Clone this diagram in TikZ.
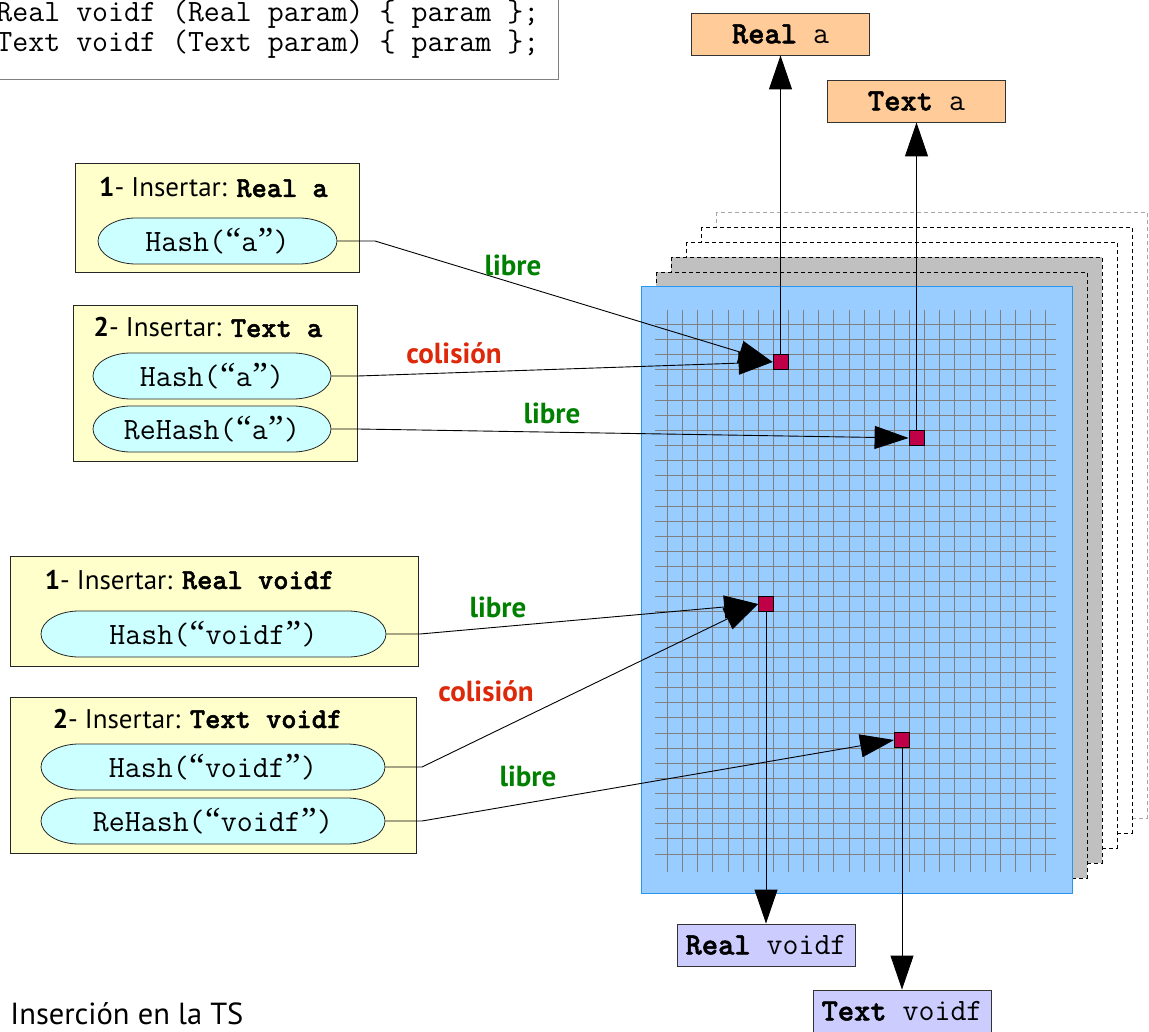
\documentclass[tikz,border=0pt]{standalone}
\usepackage{fontspec}
\newfontfamily\labelsans{PT Sans}
\newfontfamily\monoheavy{lmmonolt10-bold.otf}[FakeBold=1.6]
\newfontfamily\quotefont{Liberation Serif}
\usetikzlibrary{arrows.meta,calc}

\definecolor{notefill}{RGB}{255,255,204}
\definecolor{pillfill}{RGB}{204,255,255}
\definecolor{tablefill}{RGB}{153,204,255}
\definecolor{tableedge}{RGB}{40,150,235}
\definecolor{layergray}{RGB}{192,192,192}
\definecolor{peach}{RGB}{255,204,153}
\definecolor{lavender}{RGB}{204,204,255}
\definecolor{slotred}{RGB}{192,0,70}
\definecolor{okgreen}{RGB}{0,128,0}
\definecolor{clashred}{RGB}{221,40,10}
\definecolor{gridgray}{RGB}{128,128,128}

\newcommand\mono[1]{{\fontsize{31}{36}\selectfont\ttfamily #1}}
\newcommand\kw[1]{{\monoheavy #1}}
\newcommand\monot[1]{{\fontsize{29}{34}\selectfont\monoheavy #1}}
% typographic quotes set in a monospaced cell
\newcommand\oq{\makebox[0.525em]{\quotefont\fontsize{35}{36}\selectfont “}}
\newcommand\cq{\makebox[0.525em]{\quotefont\fontsize{35}{36}\selectfont ”}}

% pill-shaped outline (flattened ellipse) under a named text node
\newcommand\pill[5]{%
  \filldraw[pillline] ({#2-#4/2},#3) .. controls +(0,-12.7) and +(-21,0) .. ({#2-#4/2+38},{#3-23})
    -- ({#2+#4/2-38},{#3-23}) .. controls +(21,0) and +(0,-12.7) .. ({#2+#4/2},#3)
    .. controls +(0,12.7) and +(21,0) .. ({#2+#4/2-38},{#3+23})
    -- ({#2-#4/2+38},{#3+23}) .. controls +(-21,0) and +(0,12.7) .. ({#2-#4/2},#3) -- cycle;
  \node[pilltext, minimum width=#4pt] (#1) at (#2,#3) {\mono{#5}};}

\begin{document}
\begin{tikzpicture}[x=1pt, y=-1pt, line width=0.9pt,
  notebox/.style={draw=black!85, fill=notefill, inner sep=0},
  pillline/.style={draw=black!85, fill=pillfill, line width=0.8pt},
  pilltext/.style={inner sep=0, minimum height=46pt},
  title/.style={inner sep=0, anchor=base, font=\labelsans\fontsize{27}{31}\selectfont},
  outbox/.style={draw=black!80, inner sep=0, minimum width=178pt, minimum height=42pt},
  slot/.style={draw=black, fill=slotred, minimum size=15pt, inner sep=0, line width=0.8pt},
  conn/.style={draw=black, line width=0.9pt},
  tip/.style={-{Triangle[length=34pt,width=23pt]}},
  oklabel/.style={inner sep=0, text=okgreen, font=\labelsans\bfseries\fontsize{29}{34}\selectfont},
  clashlabel/.style={inner sep=0, text=clashred, font=\labelsans\bfseries\fontsize{29}{34}\selectfont},
  layerdash/.style={dash pattern=on 4pt off 3pt, line width=0.9pt},
  gridline/.style={draw=gridgray, line width=1.5pt}]

\useasboundingbox (0,0) rectangle (1149,1032);

% declarations being inserted
\node[draw=gray, line width=1pt, inner sep=0, minimum width=563pt, minimum height=84pt, anchor=north west] (code) at (-5,-5) {};
\node[anchor=base west, inner sep=0] (code1) at (-4,22) {\mono{Real voidf (Real param) \{ param \};}};
\node[anchor=base west, inner sep=0] (code2) at (-4,52) {\mono{Text voidf (Text param) \{ param \};}};

% stacked symbol-table pages, back to front
\draw[layerdash, draw=gray!70, fill=white] (716,212) rectangle (1147,818);
\draw[layerdash, draw=black, fill=white] (701,227) rectangle (1132,833);
\draw[layerdash, draw=black, fill=white] (686,242) rectangle (1117,848);
\draw[layerdash, draw=black, fill=layergray] (671,257) rectangle (1102,863);
\draw[layerdash, draw=black, fill=layergray] (656,272) rectangle (1087,878);
\draw[draw=tableedge, fill=tablefill, line width=1pt] (641,287) rectangle (1072,893);

% cell grid
\foreach \i in {0,...,25}
  \draw[gridline] ({round(667+15.13*\i)+0.5},310) -- ({round(667+15.13*\i)+0.5},872);
\foreach \j in {0,...,35}
  \draw[gridline] (655,{round(324+15.13*\j)+0.5}) -- (1056,{round(324+15.13*\j)+0.5});

% result entries
\node[outbox, fill=peach] (realA) at (780.5,34) {\mono{\kw{Real} a}};
\node[outbox, fill=peach] (textA) at (916.5,101) {\mono{\kw{Text} a}};
\node[outbox, fill=lavender] (realV) at (766,945) {\mono{\kw{Real} voidf}};
\node[outbox, fill=lavender] (textV) at (902,1011) {\mono{\kw{Text} voidf}};

% occupied cells
\node[slot] (sq1) at (780.5,362) {};
\node[slot] (sq2) at (916.5,438) {};
\node[slot] (sq3) at (766,604) {};
\node[slot] (sq4) at (902,740) {};

% insertion steps
\node[notebox, minimum width=284pt, minimum height=109pt] (b1) at (217,217.5) {};
\node[notebox, minimum width=284pt, minimum height=156pt] (b2) at (215,383) {};
\node[notebox, minimum width=408pt, minimum height=110pt] (b3) at (214,611) {};
\node[notebox, minimum width=406pt, minimum height=156pt] (b4) at (213,775) {};

\node[title] (t1) at (213.5,197) {{\bfseries 1}- Insertar: \monot{Real a}};
\node[title] (t2) at (208,337) {{\bfseries 2}- Insertar: \monot{Text a}};
\node[title] (t3) at (189.5,589) {{\bfseries 1}- Insertar: \monot{Real voidf}};
\node[title] (t4) at (197.5,728) {{\bfseries 2}- Insertar: \monot{Text voidf}};

\pill{p1}{217.5}{241}{239}{Hash(\oq a\cq)}
\pill{p2}{212}{376}{238}{Hash(\oq a\cq)}
\pill{p3}{212}{429}{238}{ReHash(\oq a\cq)}
\pill{p4}{213.5}{634}{345}{Hash(\oq voidf\cq)}
\pill{p5}{213}{767}{344}{Hash(\oq voidf\cq)}
\pill{p6}{213}{821}{344}{ReHash(\oq voidf\cq)}

% bends of the connectors
\coordinate (c1) at (375,241);
\coordinate (c2) at (358,376);
\coordinate (c3) at (358,429);
\coordinate (c4) at (420,634);
\coordinate (c5) at (422,767);
\coordinate (c6) at (422,821);

\draw[conn, tip] (p1.east) -- (c1) -- (sq1.west);
\draw[conn, tip] (p2.east) -- (c2) -- (sq1.west);
\draw[conn, tip] (p3.east) -- (c3) -- (sq2.west);
\draw[conn, tip] (p4.east) -- (c4) -- (sq3.west);
\draw[conn, tip] (p5.east) -- (c5) -- (sq3.west);
\draw[conn, tip] (p6.east) -- (c6) -- (sq4.west);

\draw[conn, tip] (sq1.north) -- (realA.south);
\draw[conn, tip] (sq2.north) -- (textA.south);
\draw[conn, tip] (sq3.south) -- (realV.north);
\draw[conn, tip] (sq4.south) -- (textV.north);

% outcome labels
\node[oklabel] (l1) at (513,265) {libre};
\node[clashlabel] (l2) at (454,353) {colisión};
\node[oklabel] (l3) at (552,413) {libre};
\node[oklabel] (l4) at (498,607) {libre};
\node[clashlabel] (l5) at (486,691) {colisión};
\node[oklabel] (l6) at (528,776) {libre};

\node[inner sep=0, anchor=base west, font=\labelsans\fontsize{30.5}{36}\selectfont] (caption) at (10,1024) {Inserción en la TS};

\end{tikzpicture}
\end{document}
